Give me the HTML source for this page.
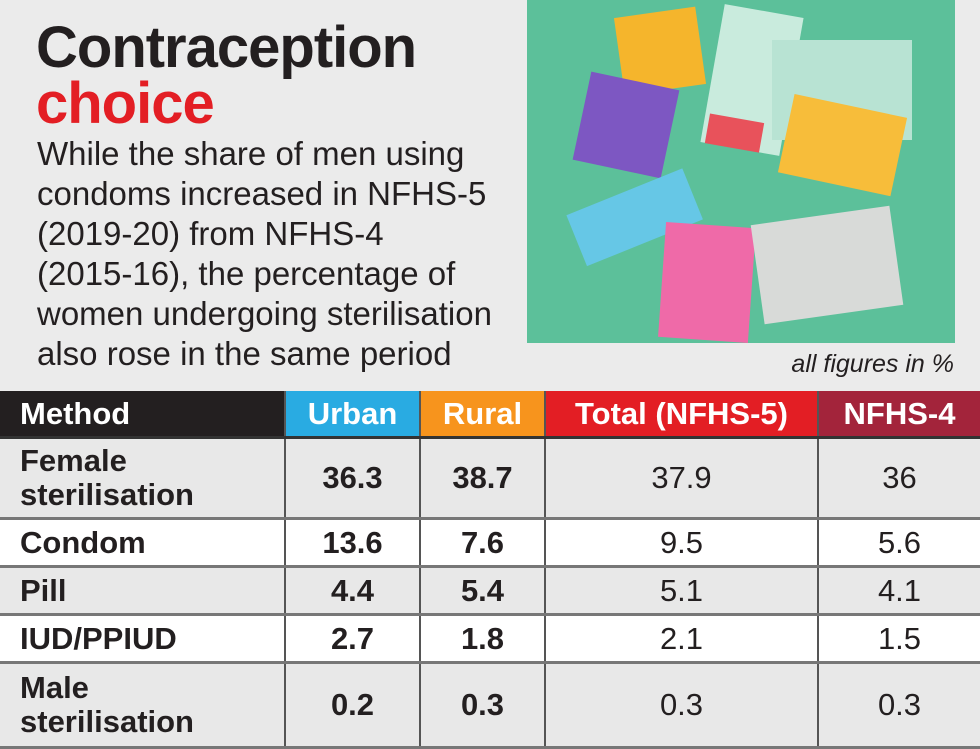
<!DOCTYPE html>
<html><head><style>
body{margin:0;width:980px;height:744px;background:#ebebeb;overflow:hidden;position:relative;font-family:"Liberation Sans",sans-serif;color:#231f20}
.t{position:absolute;left:36px;font-weight:bold;font-size:58px;line-height:56px;letter-spacing:-1px}
.p{position:absolute;left:37px;top:134px;font-size:33px;line-height:40px;width:500px;white-space:nowrap}
table{position:absolute;left:0;top:391px;border-collapse:collapse;width:980px;table-layout:fixed}
td,th{padding:0;border-left:2px solid #555;border-bottom:3px solid #777;text-align:center;font-size:31px}
th{height:45px;color:#fff;font-weight:bold;border-bottom:3px solid #333}
td:first-child,th:first-child{text-align:left;padding-left:20px;font-weight:bold;border-left:none}
.g{background:#e8e8e8}.w{background:#fff}
.b{font-weight:bold}
</style></head><body>
<div class="t" style="top:20px">Contraception</div>
<div class="t" style="top:76px;color:#e31e24">choice</div>
<div class="p">While the share of men using<br>condoms increased in NFHS-5<br>(2019-20) from NFHS-4<br>(2015-16), the percentage of<br>women undergoing sterilisation<br>also rose in the same period</div>
<div style="position:absolute;right:26px;top:350px;font-size:25px;font-style:italic">all figures in %</div>
<svg style="position:absolute;left:527px;top:0" width="428" height="343">
<rect width="428" height="343" fill="#5cc09a"/>
<rect x="92" y="12" width="82" height="78" fill="#f5b52c" transform="rotate(-8 133 51)"/>
<rect x="54" y="80" width="90" height="90" fill="#7d57c2" transform="rotate(12 99 125)"/>
<rect x="185" y="10" width="80" height="140" fill="#c9ebdd" transform="rotate(10 225 80)"/>
<rect x="180" y="118" width="55" height="30" fill="#e8525b" transform="rotate(10 207 133)"/>
<rect x="245" y="40" width="140" height="100" fill="#b8e3d3"/>
<rect x="258" y="105" width="115" height="80" fill="#f7bd3a" transform="rotate(12 315 145)"/>
<rect x="45" y="190" width="125" height="55" fill="#66c7e6" transform="rotate(-22 107 217)"/>
<rect x="135" y="225" width="90" height="115" fill="#ef6aa8" transform="rotate(4 180 282)"/>
<rect x="230" y="215" width="140" height="100" fill="#d8dad8" transform="rotate(-8 300 265)"/>
</svg>
<table>
<colgroup><col style="width:285px"><col style="width:135px"><col style="width:125px"><col style="width:273px"><col style="width:162px"></colgroup>
<tr><th style="background:#231f20">Method</th><th style="background:#29abe2">Urban</th><th style="background:#f7941d">Rural</th><th style="background:#e31e24">Total (NFHS-5)</th><th style="background:#a3243b">NFHS-4</th></tr>
<tr class="g" style="height:81px"><td style="line-height:34px">Female<br>sterilisation</td><td class="b">36.3</td><td class="b">38.7</td><td>37.9</td><td>36</td></tr>
<tr class="w" style="height:48px"><td>Condom</td><td class="b">13.6</td><td class="b">7.6</td><td>9.5</td><td>5.6</td></tr>
<tr class="g" style="height:48px"><td>Pill</td><td class="b">4.4</td><td class="b">5.4</td><td>5.1</td><td>4.1</td></tr>
<tr class="w" style="height:48px"><td>IUD/PPIUD</td><td class="b">2.7</td><td class="b">1.8</td><td>2.1</td><td>1.5</td></tr>
<tr class="g" style="height:85px"><td style="line-height:34px">Male<br>sterilisation</td><td class="b">0.2</td><td class="b">0.3</td><td>0.3</td><td>0.3</td></tr>
</table>
</body></html>
